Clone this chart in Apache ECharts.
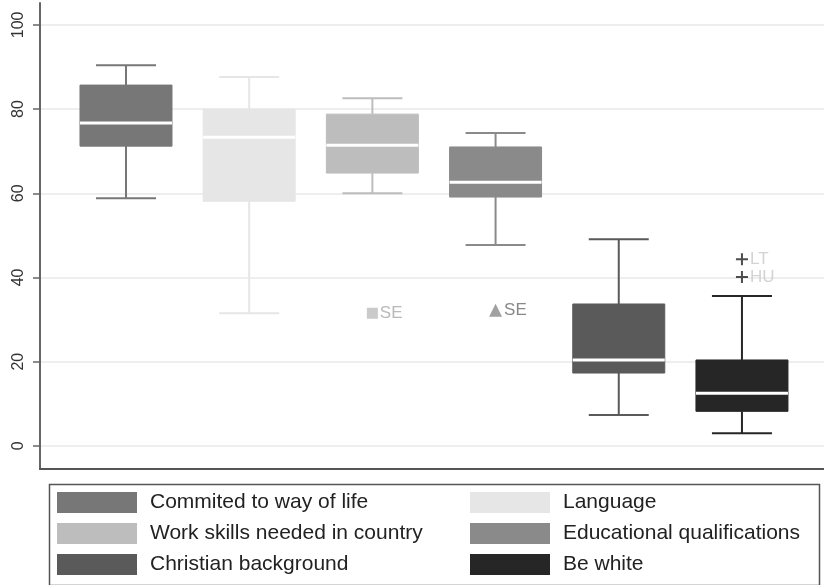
<!DOCTYPE html>
<html>
<head>
<meta charset="utf-8">
<script src="https://cdn.jsdelivr.net/npm/echarts@6/dist/echarts.min.js"></script>
<style>
  html, body { margin: 0; padding: 0; background: #fff; }
  #chart { width: 824px; height: 585px; }
</style>
</head>
<body>
<div id="chart"></div>
<script>
// groups, left to right
var groups = [
  "Commited to way of life",
  "Language",
  "Work skills needed in country",
  "Educational qualifications",
  "Christian background",
  "Be white"
];
// box stats per group: [min, Q1, median, Q3, max]
var boxStats = [
  [58.8, 71.2, 76.7, 85.7, 90.4],
  [31.5, 58.1, 73.3, 80.0, 87.6],
  [60.0, 64.8, 71.4, 78.8, 82.6],
  [47.7, 59.1, 62.6, 71.0, 74.3],
  [7.3, 17.3, 20.4, 33.7, 49.1],
  [3.0, 8.2, 12.5, 20.4, 35.6]
];
var groupColors = ["#777777", "#e6e6e6", "#bdbdbd", "#8a8a8a", "#5a5a5a", "#262626"];

// outside values: [group position, value, country]
var outWork = [[3, 31.5, "SE"]];
var outEdu = [[4, 32.2, "SE"]];
var outWhite = [[6, 44.3, "LT"], [6, 40.1, "HU"]];

var legendLeft = ["Commited to way of life", "Work skills needed in country", "Christian background"];
var legendRight = ["Language", "Educational qualifications", "Be white"];

var FONT = "'Liberation Sans', Arial, sans-serif";

function renderBox(params, api) {
  var x = api.value(0);
  var lo = api.coord([x, api.value(1)]);
  var q1 = api.coord([x, api.value(2)]);
  var md = api.coord([x, api.value(3)]);
  var q3 = api.coord([x, api.value(4)]);
  var hi = api.coord([x, api.value(5)]);
  var c = api.visual("color");
  var cx = lo[0];
  var half = 46, cap = 30;
  var ln = { stroke: c, lineWidth: 2 };
  return {
    type: "group",
    children: [
      { type: "line", shape: { x1: cx, y1: hi[1], x2: cx, y2: q3[1] }, style: ln },
      { type: "line", shape: { x1: cx, y1: q1[1], x2: cx, y2: lo[1] }, style: ln },
      { type: "line", shape: { x1: cx - cap, y1: hi[1], x2: cx + cap, y2: hi[1] }, style: ln },
      { type: "line", shape: { x1: cx - cap, y1: lo[1], x2: cx + cap, y2: lo[1] }, style: ln },
      { type: "rect", shape: { x: cx - half, y: q3[1], width: half * 2, height: q1[1] - q3[1] },
        style: { fill: c, stroke: c, lineWidth: 1 } },
      { type: "line", shape: { x1: cx - half, y1: md[1], x2: cx + half, y2: md[1] },
        style: { stroke: "#ffffff", lineWidth: 3 } }
    ]
  };
}

var series = groups.map(function (name, i) {
  return {
    name: name,
    type: "custom",
    renderItem: renderBox,
    itemStyle: { color: groupColors[i] },
    encode: { x: 0, y: [1, 2, 3, 4, 5] },
    data: [[i + 1].concat(boxStats[i])]
  };
});

function outlierSeries(data, symbol, size, color, labelColor) {
  return {
    name: "outside",
    type: "scatter",
    symbol: symbol,
    symbolSize: size,
    itemStyle: { color: color },
    z: 5,
    label: {
      show: true,
      position: "right",
      distance: 2,
      formatter: function (p) { return p.value[2]; },
      color: labelColor,
      fontSize: 17,
      fontFamily: FONT
    },
    data: data
  };
}

series.push(outlierSeries(outWork, "rect", 11, "#bdbdbd", "#a8a8a8"));
series.push(outlierSeries(outEdu, "triangle", 13, "#8a8a8a", "#6a6a6a"));
series.push(outlierSeries(outWhite, "path://M5,0H7V5H12V7H7V12H5V7H0V5H5Z", 12, "#222222", "#c8c8c8"));

var legendBase = {
  orient: "vertical",
  top: 492,
  padding: 0,
  itemWidth: 80,
  itemHeight: 21,
  itemGap: 10,
  icon: "rect",
  selectedMode: false,
  textStyle: { fontSize: 21, color: "#222", fontFamily: FONT, padding: [0, 0, 0, 8] }
};

var chart = echarts.init(document.getElementById("chart"), null, { renderer: "canvas" });
chart.setOption({
  animation: false,
  backgroundColor: "#ffffff",
  grid: { left: 40, right: 0, top: 3, bottom: 116 },
  xAxis: {
    type: "value",
    min: 0.302,
    max: 6.666,
    axisLine: { show: true, onZero: false, lineStyle: { color: "#555", width: 2 } },
    axisTick: { show: false },
    axisLabel: { show: false },
    splitLine: { show: false }
  },
  yAxis: {
    type: "value",
    min: -5.5,
    max: 105.2,
    axisLine: { show: true, lineStyle: { color: "#666", width: 2 } },
    axisTick: { show: true, length: 7, lineStyle: { color: "#666", width: 1.5 } },
    axisLabel: {
      rotate: 90,
      margin: 13,
      fontSize: 16,
      color: "#333",
      fontFamily: FONT,
      showMinLabel: false,
      showMaxLabel: false
    },
    splitLine: { show: true, showMinLine: false, showMaxLine: false, lineStyle: { color: "#e8e8e8", width: 1.5 } }
  },
  legend: [
    Object.assign({}, legendBase, { left: 57, data: legendLeft }),
    Object.assign({}, legendBase, { left: 470, data: legendRight })
  ],
  graphic: [{
    type: "rect",
    left: 47,
    top: 482,
    shape: { width: 770, height: 101 },
    style: { fill: "none", stroke: "#555", lineWidth: 1.5 }
  }],
  series: series
});
</script>
</body>
</html>
